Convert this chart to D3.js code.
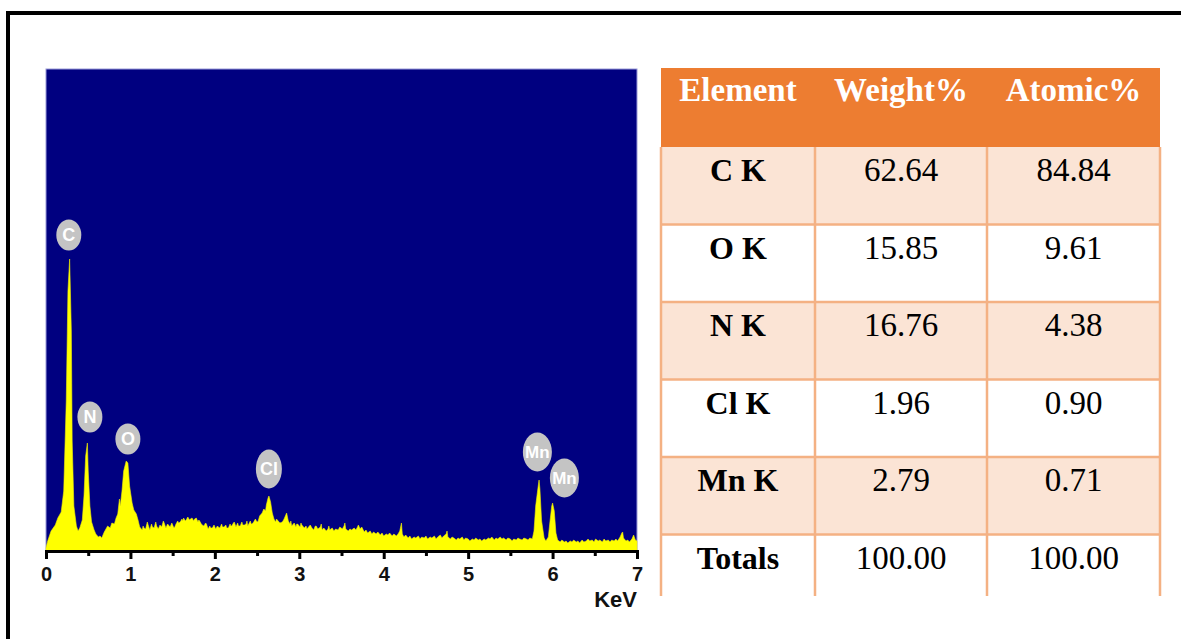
<!DOCTYPE html>
<html>
<head>
<meta charset="utf-8">
<script src="https://cdn.jsdelivr.net/npm/d3@7"></script>
<style>
  html, body { margin: 0; padding: 0; background: #ffffff; }
  svg { display: block; }
</style>
</head>
<body>
<svg id="chart" width="1181" height="639"></svg>
<script>
// ---------------- DATA ----------------
// EDS spectrum: [energy keV, counts]
const spectrum = [
  [0.00,30],[0.02,100],[0.06,200],[0.11,260],[0.14,330],[0.18,390],[0.21,600],[0.24,1500],[0.26,2600],[0.28,2920],
  [0.30,2200],[0.31,1100],[0.33,450],[0.36,250],[0.38,200],[0.40,230],[0.43,310],[0.45,550],[0.47,950],[0.49,1080],
  [0.50,800],[0.52,450],[0.54,290],[0.57,210],[0.59,170],[0.62,140],[0.64,150],[0.66,130],[0.69,190],[0.71,220],
  [0.73,250],[0.76,230],[0.78,280],[0.81,270],[0.83,330],[0.85,370],[0.87,520],[0.88,450],[0.90,600],[0.92,800],
  [0.95,900],[0.97,880],[0.99,650],[1.02,480],[1.04,410],[1.07,370],[1.09,310],[1.11,240],[1.14,210],[1.15,250],
  [1.16,230],[1.18,220],[1.20,290],[1.21,260],[1.23,210],[1.25,270],[1.26,240],[1.28,230],[1.30,290],[1.31,250],
  [1.33,220],[1.35,260],[1.37,240],[1.39,300],[1.40,280],[1.42,230],[1.44,270],[1.46,250],[1.47,240],[1.49,280],
  [1.51,240],[1.52,230],[1.54,270],[1.56,300],[1.57,280],[1.59,290],[1.61,320],[1.62,300],[1.63,330],[1.65,300],
  [1.66,310],[1.68,340],[1.70,310],[1.71,320],[1.73,330],[1.75,300],[1.76,320],[1.78,330],[1.80,290],[1.81,310],
  [1.82,300],[1.84,270],[1.85,260],[1.87,250],[1.89,280],[1.90,270],[1.92,220],[1.94,250],[1.95,230],[1.97,230],
  [1.99,260],[2.00,240],[2.01,220],[2.03,250],[2.04,240],[2.06,230],[2.08,270],[2.09,240],[2.11,240],[2.13,260],
  [2.14,230],[2.16,230],[2.18,270],[2.19,250],[2.20,250],[2.22,280],[2.23,290],[2.25,240],[2.27,280],[2.28,250],
  [2.30,250],[2.32,290],[2.33,260],[2.35,260],[2.37,270],[2.38,300],[2.39,250],[2.42,300],[2.43,270],[2.44,270],
  [2.46,290],[2.48,320],[2.49,300],[2.51,290],[2.53,350],[2.56,380],[2.58,420],[2.60,400],[2.61,460],[2.63,530],
  [2.64,550],[2.66,490],[2.68,380],[2.70,320],[2.72,290],[2.73,320],[2.75,300],[2.77,280],[2.80,290],[2.82,320],
  [2.84,360],[2.85,380],[2.87,300],[2.89,270],[2.90,300],[2.91,250],[2.94,280],[2.96,240],[2.97,270],[2.98,270],
  [3.01,240],[3.02,280],[3.03,260],[3.06,230],[3.08,250],[3.09,220],[3.10,230],[3.13,260],[3.15,230],[3.17,210],
  [3.19,250],[3.20,250],[3.22,220],[3.25,240],[3.26,270],[3.27,210],[3.29,230],[3.32,200],[3.34,220],[3.35,250],
  [3.36,210],[3.39,230],[3.41,200],[3.43,220],[3.46,210],[3.48,240],[3.51,220],[3.53,250],[3.54,280],[3.55,220],
  [3.58,200],[3.60,220],[3.62,210],[3.65,230],[3.67,210],[3.69,240],[3.70,260],[3.72,220],[3.74,240],[3.77,190],
  [3.79,210],[3.81,180],[3.84,200],[3.86,170],[3.88,190],[3.91,170],[3.93,190],[3.96,160],[3.98,180],[4.00,150],
  [4.03,170],[4.05,160],[4.07,180],[4.10,150],[4.12,170],[4.15,150],[4.17,170],[4.19,200],[4.21,280],[4.22,170],
  [4.24,140],[4.26,160],[4.29,130],[4.31,150],[4.33,120],[4.36,140],[4.38,130],[4.41,150],[4.43,120],[4.45,140],
  [4.48,130],[4.50,150],[4.52,120],[4.55,140],[4.57,130],[4.60,150],[4.62,120],[4.64,140],[4.67,160],[4.69,130],
  [4.71,150],[4.74,170],[4.75,200],[4.76,140],[4.79,120],[4.81,140],[4.83,130],[4.86,110],[4.88,130],[4.90,120],
  [4.93,140],[4.95,110],[4.97,130],[5.00,120],[5.02,100],[5.05,120],[5.07,110],[5.09,130],[5.12,110],[5.14,120],
  [5.16,100],[5.19,120],[5.21,110],[5.24,130],[5.26,120],[5.28,140],[5.31,110],[5.33,130],[5.35,120],[5.38,140],
  [5.40,120],[5.42,130],[5.45,110],[5.47,130],[5.50,120],[5.52,100],[5.54,120],[5.57,110],[5.59,130],[5.61,120],
  [5.64,110],[5.66,130],[5.69,120],[5.71,110],[5.73,130],[5.76,120],[5.78,200],[5.80,450],[5.83,650],[5.84,710],
  [5.85,620],[5.87,300],[5.90,130],[5.92,100],[5.95,140],[5.97,300],[5.99,450],[6.00,480],[6.02,400],[6.04,180],
  [6.06,110],[6.09,90],[6.11,110],[6.14,90],[6.16,100],[6.18,80],[6.21,100],[6.23,90],[6.25,110],[6.28,90],
  [6.30,100],[6.32,80],[6.35,110],[6.37,90],[6.40,100],[6.42,120],[6.44,100],[6.47,110],[6.49,90],[6.51,120],
  [6.54,100],[6.56,110],[6.59,90],[6.61,120],[6.63,100],[6.66,110],[6.68,90],[6.70,110],[6.73,100],[6.75,120],
  [6.77,100],[6.80,140],[6.82,180],[6.83,190],[6.84,130],[6.87,100],[6.89,110],[6.91,90],[6.94,120],[6.96,160],
  [6.98,110],[7.00,100]
];

// Peak labels: element symbol, anchor energy (keV) and anchor count level
const peakLabels = [
  ["C", 0.27, 3160],
  ["N", 0.52, 1340],
  ["O", 0.97, 1120],
  ["Cl", 2.64, 820],
  ["Mn", 5.82, 990],
  ["Mn", 6.14, 730]
];

const xTicks = [0, 1, 2, 3, 4, 5, 6, 7];
const xMinorTicks = [0.5, 1.5, 2.5, 3.5, 4.5, 5.5, 6.5];
const xAxisTitle = "KeV";

// Composition table
const tableHeaders = ["Element", "Weight%", "Atomic%"];
const tableElements = ["C K", "O K", "N K", "Cl K", "Mn K", "Totals"];
const weightPct = ["62.64", "15.85", "16.76", "1.96", "2.79", "100.00"];
const atomicPct = ["84.84", "9.61", "4.38", "0.90", "0.71", "100.00"];

// ---------------- DRAW ----------------
const svg = d3.select("#chart");

// outer frame (top + left edges)
svg.append("line").attr("x1", 8).attr("y1", 13).attr("x2", 1181).attr("y2", 13)
  .attr("stroke", "#000").attr("stroke-width", 4);
svg.append("line").attr("x1", 8).attr("y1", 11).attr("x2", 8).attr("y2", 639)
  .attr("stroke", "#000").attr("stroke-width", 4);

// spectrum
const plot = { left: 46, right: 637, top: 69, bottom: 551 };
const x = d3.scaleLinear().domain([0, 7]).range([plot.left, plot.right]);
const y = d3.scaleLinear().domain([0, 4820]).range([plot.bottom, plot.top]);

svg.append("rect")
  .attr("x", plot.left).attr("y", plot.top)
  .attr("width", plot.right - plot.left).attr("height", plot.bottom - plot.top)
  .attr("fill", "#000080")
  .attr("stroke", "#9a9ad8").attr("stroke-width", 1);

const area = d3.area()
  .x(d => x(d[0]))
  .y0(y(0))
  .y1(d => y(d[1]))
  .curve(d3.curveLinear);

svg.append("path").datum(spectrum)
  .attr("d", area)
  .attr("fill", "#ffff00")
  .attr("stroke", "#f0f000").attr("stroke-width", 0.6);

// peak labels
const lab = svg.append("g").selectAll("g").data(peakLabels).join("g")
  .attr("transform", d => `translate(${x(d[1])},${y(d[2])})`);
lab.append("ellipse")
  .attr("rx", d => d[0].length > 1 ? (d[0] === "Mn" ? 14.5 : 13) : 12.5)
  .attr("ry", d => d[0].length > 1 ? 19.5 : 15.5)
  .attr("fill", "#c4c4c4");
lab.append("text")
  .attr("text-anchor", "middle")
  .attr("dy", "0.36em")
  .attr("fill", "#ffffff")
  .attr("font-family", "Liberation Sans, Arial, sans-serif")
  .attr("font-weight", "bold")
  .attr("font-size", d => d[0] === "Mn" ? 17 : 18)
  .text(d => d[0]);

// x axis
const axis = d3.axisBottom(x).tickValues(xTicks).tickSize(8).tickPadding(8).tickFormat(d3.format("d"));
const gAxis = svg.append("g").attr("transform", `translate(0,${plot.bottom})`).call(axis);
gAxis.select(".domain").attr("stroke", "#000").attr("stroke-width", 3);
gAxis.selectAll(".tick line").attr("stroke", "#000").attr("stroke-width", 3);
gAxis.selectAll(".tick text")
  .attr("font-family", "Liberation Sans, Arial, sans-serif")
  .attr("font-weight", "bold").attr("font-size", 20).attr("fill", "#111");
const minor = d3.axisBottom(x).tickValues(xMinorTicks).tickSize(5).tickFormat("");
const gMinor = svg.append("g").attr("transform", `translate(0,${plot.bottom})`).call(minor);
gMinor.select(".domain").remove();
gMinor.selectAll(".tick line").attr("stroke", "#000").attr("stroke-width", 3);

svg.append("text")
  .attr("x", plot.right).attr("y", 607)
  .attr("text-anchor", "end")
  .attr("font-family", "Liberation Sans, Arial, sans-serif")
  .attr("font-weight", "bold").attr("font-size", 22).attr("fill", "#111")
  .text(xAxisTitle);

// ---------------- TABLE ----------------
const colEdges = [661, 815, 987, 1160];
const colCenters = d3.range(3).map(i => (colEdges[i] + colEdges[i + 1]) / 2);
const headerTop = 68, headerBottom = 147;
const rowBand = d3.scaleBand().domain(d3.range(tableElements.length)).range([147, 612]).paddingInner(0);
const rowTops = d3.range(tableElements.length).map(i => rowBand(i));
const tableBottom = 596;

const gT = svg.append("g");
const serif = "Liberation Serif, Times New Roman, serif";
const border = "#f4b183";

// header
gT.append("rect").attr("x", colEdges[0]).attr("y", headerTop)
  .attr("width", colEdges[3] - colEdges[0]).attr("height", headerBottom - headerTop)
  .attr("fill", "#ed7d31");
gT.selectAll("text.h").data(tableHeaders).join("text")
  .attr("class", "h")
  .attr("x", (d, i) => colCenters[i]).attr("y", 101)
  .attr("text-anchor", "middle")
  .attr("font-family", serif).attr("font-weight", "bold").attr("font-size", 33)
  .attr("fill", "#ffffff")
  .text(d => d);

// rows
const rows = tableElements.map((e, i) => ({ e, w: weightPct[i], a: atomicPct[i], i }));
gT.selectAll("rect.r").data(rows).join("rect")
  .attr("class", "r")
  .attr("x", colEdges[0])
  .attr("y", d => rowTops[d.i])
  .attr("width", colEdges[3] - colEdges[0])
  .attr("height", d => (d.i === rows.length - 1 ? tableBottom : rowTops[d.i] + rowBand.bandwidth()) - rowTops[d.i])
  .attr("fill", d => d.i % 2 === 0 && d.i < rows.length - 1 ? "#fbe4d5" : "#ffffff");

// horizontal borders (between rows)
gT.selectAll("line.hz").data(rows.slice(1)).join("line")
  .attr("class", "hz")
  .attr("x1", colEdges[0]).attr("x2", colEdges[3])
  .attr("y1", d => rowTops[d.i]).attr("y2", d => rowTops[d.i])
  .attr("stroke", border).attr("stroke-width", 2.5);
// vertical borders
gT.selectAll("line.vt").data(colEdges).join("line")
  .attr("class", "vt")
  .attr("x1", d => d).attr("x2", d => d)
  .attr("y1", headerBottom).attr("y2", tableBottom)
  .attr("stroke", border).attr("stroke-width", 2.5);

const rowText = gT.selectAll("g.row").data(rows).join("g").attr("class", "row");
rowText.append("text")
  .attr("x", colCenters[0]).attr("y", d => rowTops[d.i] + 34)
  .attr("text-anchor", "middle")
  .attr("font-family", serif).attr("font-weight", "bold").attr("font-size", 32)
  .attr("fill", "#000").text(d => d.e);
rowText.append("text")
  .attr("x", colCenters[1]).attr("y", d => rowTops[d.i] + 34)
  .attr("text-anchor", "middle")
  .attr("font-family", serif).attr("font-size", 33)
  .attr("fill", "#000").text(d => d.w);
rowText.append("text")
  .attr("x", colCenters[2]).attr("y", d => rowTops[d.i] + 34)
  .attr("text-anchor", "middle")
  .attr("font-family", serif).attr("font-size", 33)
  .attr("fill", "#000").text(d => d.a);
</script>
</body>
</html>
